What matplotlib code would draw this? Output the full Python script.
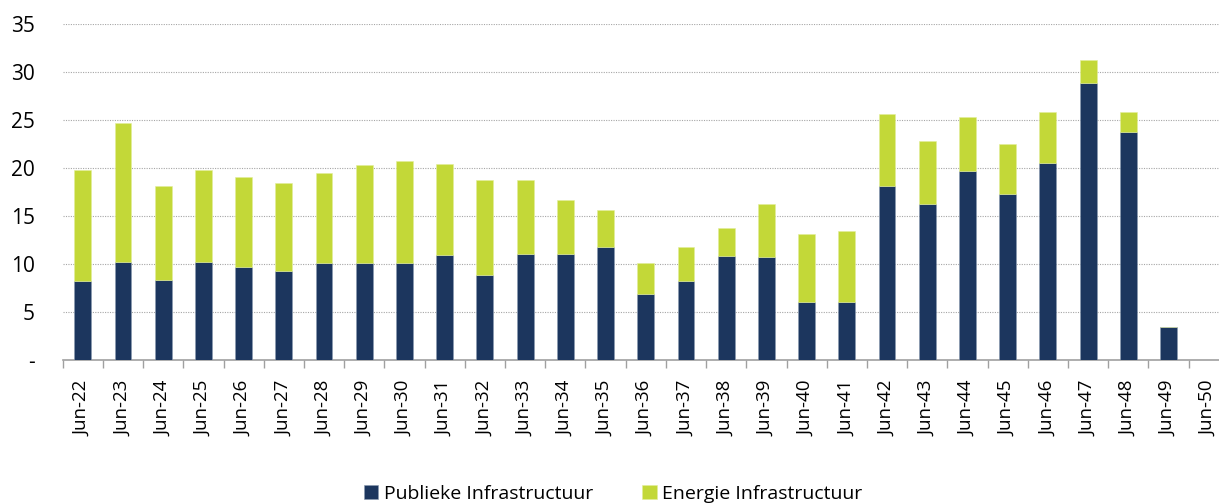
import numpy as np
import matplotlib
matplotlib.use("Agg")
from matplotlib import pyplot as plt

plt.rcParams['font.family'] = ['Open Sans', 'DejaVu Sans']

labels = ["Jun-%d" % y for y in range(22, 51)]
publiek = [8.2, 10.2, 8.3, 10.2, 9.7, 9.3, 10.1, 10.1, 10.1, 10.9,
           8.9, 11.0, 11.0, 11.8, 6.9, 8.2, 10.8, 10.7, 6.0, 6.0,
           18.1, 16.2, 19.7, 17.3, 20.5, 28.9, 23.8, 3.4, 0.0]
totaal = [19.8, 24.7, 18.1, 19.8, 19.1, 18.4, 19.5, 20.3, 20.7, 20.4,
          18.7, 18.8, 16.7, 15.6, 10.1, 11.8, 13.7, 16.3, 13.1, 13.4,
          25.6, 22.8, 25.3, 22.5, 25.8, 31.3, 25.8, 3.4, 0.0]
energie = [t - p for t, p in zip(totaal, publiek)]

navy = '#1c365e'
green = '#c3d838'

fig = plt.figure(figsize=(12.19, 5.04), dpi=100)
ax = fig.add_axes([0.0514, 0.2857, 0.9567, 0.6667])

x = np.arange(len(labels))
ax.bar(x, publiek, width=0.42, color=navy, edgecolor='#8a9ab0', linewidth=0.4,
       label='Publieke Infrastructuur', zorder=3)
ax.bar(x, energie, width=0.42, bottom=publiek, color=green, edgecolor='#e2ee9a',
       linewidth=0.4, label='Energie Infrastructuur', zorder=3)

ax.set_ylim(0, 35)
ax.set_xlim(-0.5, len(labels) - 0.5)
ax.set_yticks(range(0, 36, 5))
ax.set_yticklabels(['-'] + [str(v) for v in range(5, 36, 5)], fontsize=15)
ax.yaxis.grid(True, linestyle=(0, (1, 1.2)), color='#a6a6a6', linewidth=0.8, zorder=0)
ax.tick_params(axis='y', length=0, pad=20)

ax.set_xticks(x)
ax.set_xticklabels(labels, rotation=90, fontsize=13.5)
ax.set_xticks(np.arange(-0.5, len(labels), 1), minor=True)
ax.tick_params(axis='x', which='major', length=0, pad=15)
ax.tick_params(axis='x', which='minor', length=6, color='#a0a0a0', width=1)

for s in ['top', 'right', 'left']:
    ax.spines[s].set_visible(False)
ax.spines['bottom'].set_color('#a0a0a0')
ax.spines['bottom'].set_linewidth(1.2)

fig.legend(loc='center', bbox_to_anchor=(0.503, 0.02), ncol=2, frameon=False,
           fontsize=14, handlelength=0.75, handleheight=0.75, columnspacing=2.5,
           handletextpad=0.3)

fig.savefig('out.png', dpi=100)
